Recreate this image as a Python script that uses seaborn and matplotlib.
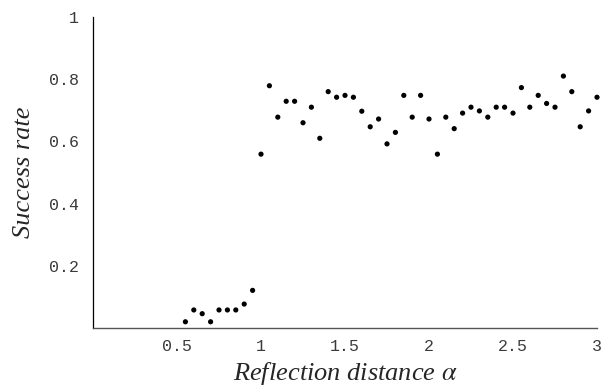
import matplotlib
matplotlib.use("Agg")
import matplotlib.pyplot as plt
import seaborn as sns
import pandas as pd
from matplotlib.ticker import FixedLocator, MultipleLocator

alpha = [0.55, 0.60, 0.65, 0.70, 0.75, 0.80, 0.85, 0.90, 0.95, 1.00,
         1.05, 1.10, 1.15, 1.20, 1.25, 1.30, 1.35, 1.40, 1.45, 1.50,
         1.55, 1.60, 1.65, 1.70, 1.75, 1.80, 1.85, 1.90, 1.95, 2.00,
         2.05, 2.10, 2.15, 2.20, 2.25, 2.30, 2.35, 2.40, 2.45, 2.50,
         2.55, 2.60, 2.65, 2.70, 2.75, 2.80, 2.85, 2.90, 2.95, 3.00]
success = [0.020, 0.058, 0.046, 0.020, 0.058, 0.058, 0.058, 0.077, 0.121, 0.559,
           0.779, 0.678, 0.729, 0.729, 0.660, 0.710, 0.610, 0.760, 0.742, 0.748,
           0.742, 0.697, 0.647, 0.672, 0.592, 0.629, 0.748, 0.678, 0.748, 0.672,
           0.559, 0.678, 0.641, 0.691, 0.710, 0.698, 0.678, 0.710, 0.710, 0.691,
           0.773, 0.710, 0.748, 0.722, 0.710, 0.810, 0.760, 0.647, 0.698, 0.742]

x_ticks = [0.5, 1.0, 1.5, 2.0, 2.5, 3.0]
x_tick_labels = ["0.5", "1", "1.5", "2", "2.5", "3"]
y_ticks = [0.2, 0.4, 0.6, 0.8, 1.0]
y_tick_labels = ["0.2", "0.4", "0.6", "0.8", "1"]

df = pd.DataFrame({"alpha": alpha, "success": success})

sns.set_style("white")
plt.rcParams["mathtext.fontset"] = "stix"
fig = plt.figure(figsize=(6.09, 3.90), dpi=100)
ax = fig.add_axes([93/609, (390-328)/390, 504/609, 311/390])

sns.scatterplot(data=df, x="alpha", y="success", ax=ax, color="black",
                s=14, linewidth=0, edgecolor="none", clip_on=False, zorder=3)

ax.set_xlim(0, 3.0)
ax.set_ylim(0, 1.0)

for s in ["top", "right"]:
    ax.spines[s].set_visible(False)
ax.spines["left"].set_color("black")
ax.spines["left"].set_linewidth(0.9)
ax.spines["bottom"].set_color("#555555")
ax.spines["bottom"].set_linewidth(1.0)

ax.xaxis.set_major_locator(FixedLocator(x_ticks))
ax.set_xticklabels(x_tick_labels)
ax.yaxis.set_major_locator(FixedLocator(y_ticks))
ax.set_yticklabels(y_tick_labels)
ax.xaxis.set_minor_locator(MultipleLocator(0.1))
ax.yaxis.set_minor_locator(MultipleLocator(0.05))

ax.tick_params(axis="both", which="major", direction="in", length=3.5, width=0.8,
               color="black", labelsize=12, labelcolor="#3a3a3a")
ax.tick_params(axis="both", which="minor", direction="in", length=2, width=0.6,
               color="black")
ax.tick_params(axis="x", which="major", pad=8)
ax.tick_params(axis="y", which="major", pad=10)
for lab in ax.get_xticklabels() + ax.get_yticklabels():
    lab.set_family("Liberation Mono")

ax.set_xlabel("Reflection distance $\\alpha$", fontfamily="Liberation Serif",
              fontstyle="italic", fontsize=19, labelpad=4)
ax.set_ylabel("Success rate", fontfamily="Liberation Serif",
              fontstyle="italic", fontsize=19, labelpad=10)

fig.savefig("out.png", dpi=100)
